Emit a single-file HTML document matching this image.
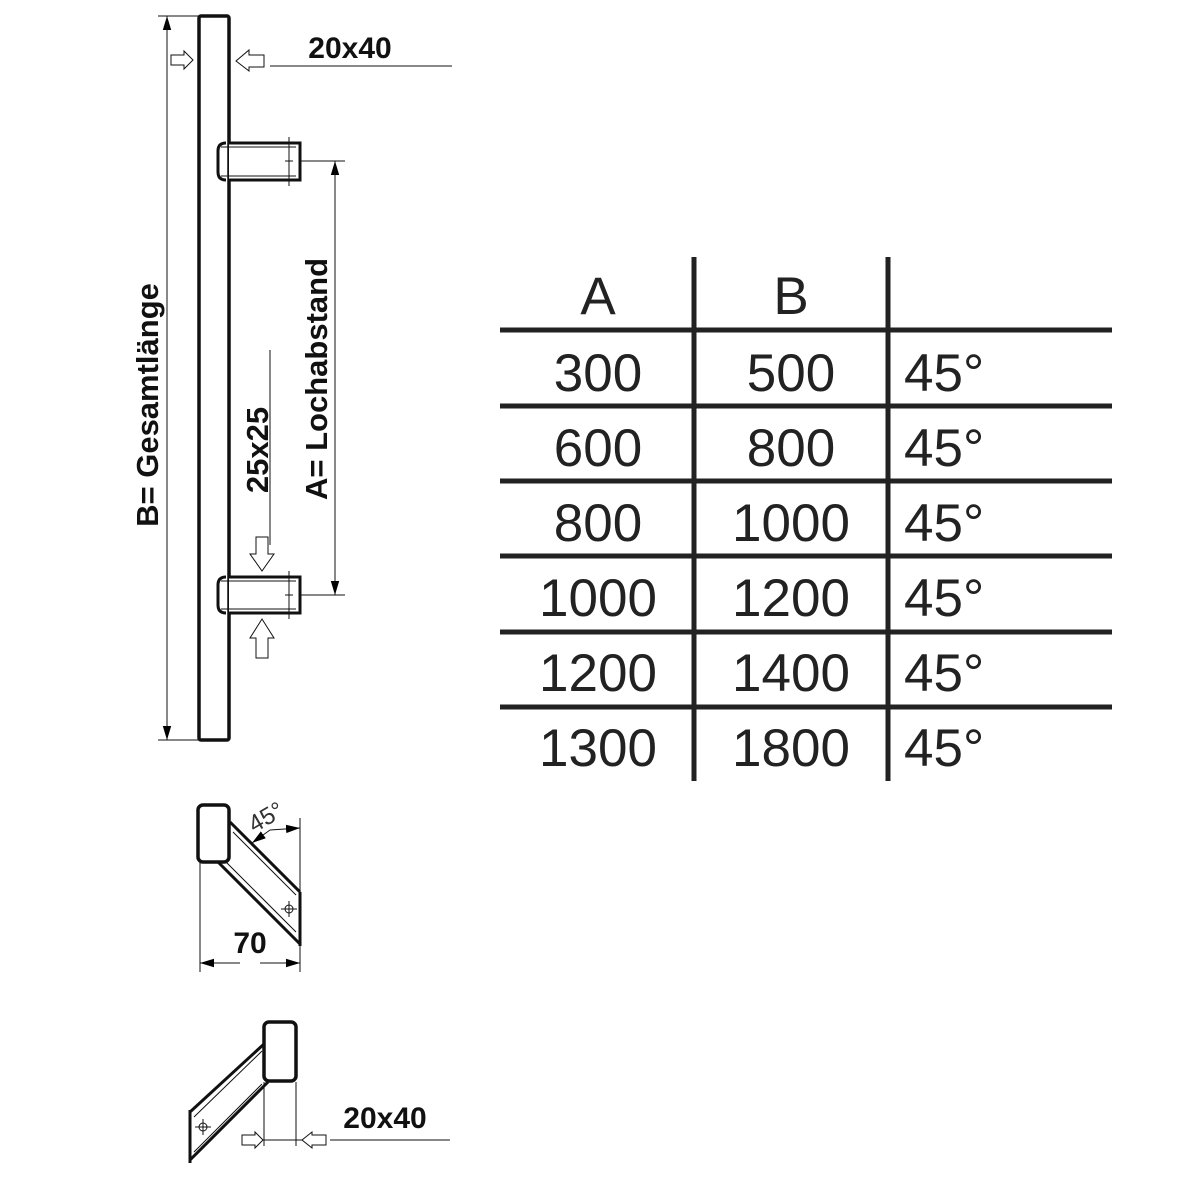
<!DOCTYPE html>
<html><head><meta charset="utf-8"><style>html,body{margin:0;padding:0;background:#fff}svg{display:block}</style></head>
<body>
<svg width="1200" height="1200" viewBox="0 0 1200 1200" xmlns="http://www.w3.org/2000/svg">
<defs>
<marker id="ar2" viewBox="0 0 10 10" refX="10" refY="5" markerWidth="14" markerHeight="14" markerUnits="userSpaceOnUse" orient="auto"><path d="M0,2 L10,5 L0,8 z" fill="#000"/></marker>
</defs>
<g fill="none" stroke="#111">
<rect x="199" y="16" width="30" height="724" rx="2" stroke-width="3.5" fill="#fff"/>
<path d="M229,143 H300 V180 H229 M226,143 Q218,143 218,151 V172 Q218,180 226,180" stroke-width="3" fill="#fff"/>
<line x1="221" y1="147" x2="296" y2="147" stroke-width="1"/><line x1="221" y1="176" x2="296" y2="176" stroke-width="1"/>
<path d="M229,577 H300 V613 H229 M226,577 Q218,577 218,585 V605 Q218,613 226,613" stroke-width="3" fill="#fff"/>
<line x1="221" y1="581" x2="296" y2="581" stroke-width="1"/><line x1="221" y1="609" x2="296" y2="609" stroke-width="1"/>
<g stroke-width="1">
<line x1="289" y1="137" x2="289" y2="186"/><line x1="285" y1="161" x2="293" y2="161"/>
<line x1="289" y1="571" x2="289" y2="619"/><line x1="285" y1="595" x2="293" y2="595"/>
<line x1="158" y1="16" x2="199" y2="16"/><line x1="158" y1="740" x2="199" y2="740"/>
<line x1="167" y1="740" x2="167" y2="16" marker-end="url(#ar2)"/>
<line x1="167" y1="16" x2="167" y2="740" marker-end="url(#ar2)"/>
<line x1="300" y1="161" x2="345" y2="161"/><line x1="300" y1="595" x2="345" y2="595"/>
<line x1="335" y1="595" x2="335" y2="161" marker-end="url(#ar2)"/>
<line x1="335" y1="161" x2="335" y2="595" marker-end="url(#ar2)"/>
<line x1="270" y1="350" x2="270" y2="545"/>
<line x1="270" y1="66" x2="452" y2="66"/>
<path d="M171,55 H184 V51 L193,60 L184,69 V65 H171 Z"/>
<path d="M264,55 H249 V50 L236,61 L249,71 V67 H264 Z"/>
<path d="M256,537 H268 V554 H274 L262,571 L250,554 H256 Z"/>
<path d="M256,658 H268 V638 H274 L262,619 L250,638 H256 Z"/>
</g>
<path d="M230,822 L300,892 M218,862 L300,944" stroke-width="3"/>
<path d="M233,832 L296,895 M225,861 L296,932" stroke-width="1"/>
<line x1="300" y1="892" x2="300" y2="946" stroke-width="3"/>
<rect x="198" y="805" width="31" height="57" rx="5" stroke-width="3.5" fill="#fff"/>
<g stroke-width="1">
<circle cx="289" cy="909" r="4"/><line x1="281" y1="909" x2="297" y2="909"/><line x1="289" y1="901" x2="289" y2="917"/>
<line x1="200" y1="862" x2="200" y2="972"/><line x1="300" y1="818" x2="300" y2="972"/>
<line x1="240" y1="963" x2="200" y2="963" marker-end="url(#ar2)"/>
<line x1="260" y1="963" x2="300" y2="963" marker-end="url(#ar2)"/>
<line x1="270" y1="830" x2="300" y2="828" marker-end="url(#ar2)"/>
<line x1="270" y1="830" x2="252" y2="843" marker-end="url(#ar2)"/>
</g>
<path d="M264,1044 L190,1112 M268,1082 L190,1160" stroke-width="3"/>
<path d="M262,1051 L194,1117 M262,1084 L194,1152" stroke-width="1"/>
<line x1="190" y1="1110" x2="190" y2="1163" stroke-width="3"/>
<rect x="264" y="1022" width="32" height="59" rx="5" stroke-width="3.5" fill="#fff"/>
<g stroke-width="1">
<circle cx="203" cy="1127" r="4"/><line x1="195" y1="1127" x2="211" y2="1127"/><line x1="203" y1="1119" x2="203" y2="1135"/>
<line x1="264" y1="1082" x2="264" y2="1146"/><line x1="296" y1="1082" x2="296" y2="1146"/>
<line x1="244" y1="1140" x2="326" y2="1140"/>
<line x1="330" y1="1140" x2="450" y2="1140"/>
<path d="M242,1135 H255 V1132 L263,1140 L255,1148 V1145 H242 Z" fill="#fff"/>
<path d="M326,1135 H312 V1132 L302,1140 L312,1148 V1145 H326 Z" fill="#fff"/>
</g>
<g stroke-width="5" stroke="#222">
<line x1="694" y1="257" x2="694" y2="781"/><line x1="888" y1="257" x2="888" y2="781"/>
<line x1="500" y1="330" x2="1112" y2="330"/><line x1="500" y1="406" x2="1112" y2="406"/>
<line x1="500" y1="481" x2="1112" y2="481"/><line x1="500" y1="556" x2="1112" y2="556"/>
<line x1="500" y1="632" x2="1112" y2="632"/><line x1="500" y1="707" x2="1112" y2="707"/>
</g>
</g>
<g font-family="'Liberation Sans', sans-serif" fill="#111" font-weight="bold">
<text x="350" y="58" font-size="30" text-anchor="middle">20x40</text>
<text x="385" y="1128" font-size="30" text-anchor="middle">20x40</text>
<text x="250" y="953" font-size="30" text-anchor="middle">70</text>
<text transform="translate(158,405) rotate(-90)" font-size="31" text-anchor="middle">B= Gesamtlänge</text>
<text transform="translate(327,379) rotate(-90)" font-size="31" text-anchor="middle">A= Lochabstand</text>
<text transform="translate(268,450) rotate(-90)" font-size="31" text-anchor="middle">25x25</text>
</g>
<text transform="translate(270,824) rotate(-30)" font-family="'Liberation Sans', sans-serif" font-size="24" fill="#333" text-anchor="middle">45°</text>
<g font-family="'Liberation Sans', sans-serif" fill="#222" font-size="53" text-anchor="middle">
<text x="598" y="314">A</text><text x="791" y="314">B</text>
<text x="598" y="391">300</text><text x="791" y="391">500</text>
<text x="598" y="466">600</text><text x="791" y="466">800</text>
<text x="598" y="541">800</text><text x="791" y="541">1000</text>
<text x="598" y="616">1000</text><text x="791" y="616">1200</text>
<text x="598" y="691">1200</text><text x="791" y="691">1400</text>
<text x="598" y="766">1300</text><text x="791" y="766">1800</text>
</g>
<g font-family="'Liberation Sans', sans-serif" fill="#222" font-size="53">
<text x="904" y="391">45°</text><text x="904" y="466">45°</text><text x="904" y="541">45°</text>
<text x="904" y="616">45°</text><text x="904" y="691">45°</text><text x="904" y="766">45°</text>
</g>
</svg>
</body></html>
